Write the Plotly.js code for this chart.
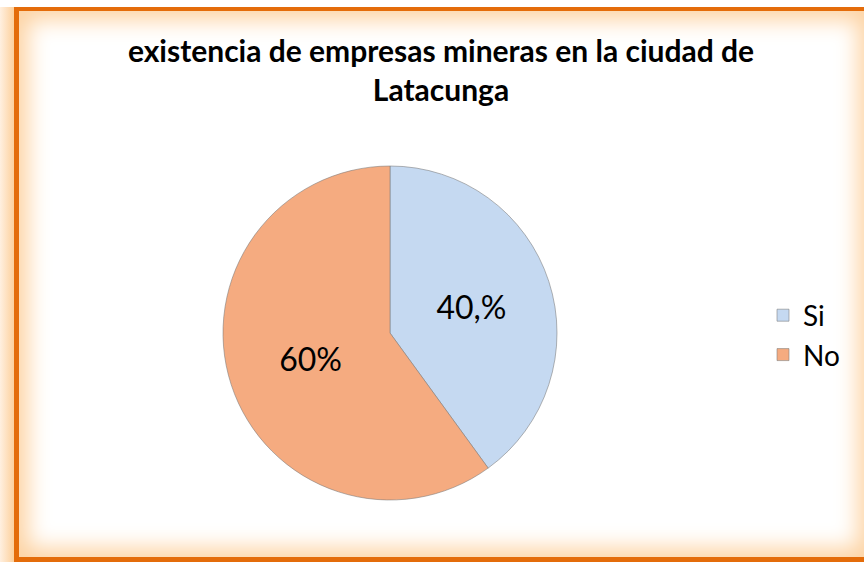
<!DOCTYPE html>
<html>
<head>
<meta charset="utf-8">
<script src="https://cdn.plot.ly/plotly-3.0.1.min.js"></script>
<style>
  html, body { margin: 0; padding: 0; background: #ffffff; }
  #wrap { position: relative; width: 864px; height: 562px; overflow: hidden; background: #ffffff; }
  #leftglow { position: absolute; left: 0; top: 7px; width: 14px; height: 560px;
    background: linear-gradient(to right, #fff0e0, #fdd09c); }
  #frame { position: absolute; left: 14px; top: 7px; width: 858px; height: 555px; box-sizing: border-box;
    border-style: solid; border-color: #e46c0a; border-width: 4px 5px 5px 5px;
    background: #ffffff; box-shadow: inset 0 0 22px 9px #fdd3a3; }
  #chart { position: absolute; left: 0; top: 0; width: 864px; height: 562px; }
</style>
</head>
<body>
<div id="wrap">
  <div id="leftglow"></div>
  <div id="frame"></div>
  <div id="chart"></div>
</div>
<script>
const categories = ['Si', 'No'];
const values = [40, 60];
const valueLabels = ['40,%', '60%'];
const sliceColors = ['#c5d9f1', '#f5ab80'];
const titleText = 'existencia de empresas mineras en la ciudad de<br>Latacunga';

const W = 864, H = 562;
const trace = {
  type: 'pie',
  labels: categories,
  values: values,
  text: valueLabels,
  textinfo: 'text',
  textposition: 'inside',
  insidetextorientation: 'horizontal',
  sort: false,
  direction: 'clockwise',
  rotation: 0,
  marker: { colors: sliceColors, line: { color: 'rgba(120,120,120,0.55)', width: 1 } },
  textfont: { family: 'Lato, sans-serif', size: 32, color: '#000000' },
  hoverinfo: 'none',
  domain: { x: [223 / W, 557 / W], y: [1 - 500 / H, 1 - 166 / H] }
};

const layout = {
  width: W, height: H,
  margin: { l: 0, r: 0, t: 0, b: 0 },
  paper_bgcolor: 'rgba(0,0,0,0)',
  plot_bgcolor: 'rgba(0,0,0,0)',
  title: {
    text: titleText,
    font: { family: 'Lato, sans-serif', size: 30, color: '#000000', weight: 'bold' },
    x: 441 / W, xanchor: 'center', xref: 'paper',
    y: 1 - 62 / H, yanchor: 'top', yref: 'paper'
  },
  showlegend: true,
  legend: {
    x: 763 / W, xanchor: 'left',
    y: 1 - 335 / H, yanchor: 'middle',
    font: { family: 'Lato, sans-serif', size: 28, color: '#000000' },
    bgcolor: 'rgba(0,0,0,0)'
  }
};

Plotly.newPlot('chart', [trace], layout, { displayModeBar: false, staticPlot: true });
</script>
</body>
</html>
